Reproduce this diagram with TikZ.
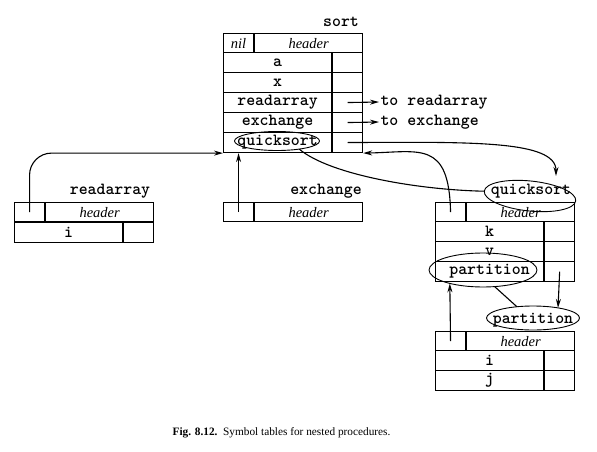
\documentclass[tikz,border=0pt]{standalone}
\usepackage{fontspec}
\setmainfont{Liberation Serif}
\usetikzlibrary{arrows.meta, shapes.geometric, positioning, calc}

\tikzset{
  cell/.style={draw, rectangle, inner sep=0pt, anchor=north west, minimum height=20pt,
    font=\fontsize{17}{17}\selectfont\ttfamily\bfseries},
  hdr/.style={cell, minimum height=19pt, font=\fontsize{14.5}{14.5}\selectfont\itshape},
  wide/.style={minimum width=108pt},
  narrow/.style={minimum width=30pt},
  proc/.style={inner sep=1pt, font=\fontsize{17}{17}\selectfont\ttfamily\bfseries},
  oval/.style={draw, ellipse, inner sep=0pt, outer sep=0pt, line width=0.9pt}
}

\begin{document}
\begin{tikzpicture}[x=1pt, y=-1pt, >={Stealth[length=9pt, width=5pt]}, line width=1.1pt]
\useasboundingbox (0,0) rectangle (597,452);

% Symbol table of sort
\node[proc] (sort-lbl) at (341,22) {sort};
\node[hdr, narrow] (sort-nil) at (223,33) {nil};
\node[hdr, wide] (sort-hdr) at (sort-nil.north east) {header};
\foreach \r [count=\k from 0] in {a,x,readarray,exchange,quicksort} {
  \node[cell, wide] (sort-\r) at (223,{52+20*\k}) {\r};
  \node[cell, narrow] (sort-\r-p) at (sort-\r.north east) {};
}
\node[proc, anchor=west] (to-ra) at (379,102) {to readarray};
\node[proc, anchor=west] (to-ex) at (379,122) {to exchange};

% Symbol tables of readarray and exchange
\node[proc] (ra-lbl) at (110,191) {readarray};
\node[hdr, narrow] (ra-nil) at (14,202) {};
\node[hdr, wide] (ra-hdr) at (ra-nil.north east) {header};
\node[cell, wide] (ra-i) at (ra-nil.south west) {i};
\node[cell, narrow] (ra-i-p) at (ra-i.north east) {};

\node[proc] (ex-lbl) at (326,191) {exchange};
\node[hdr, narrow] (ex-nil) at (223,202) {};
\node[hdr, wide] (ex-hdr) at (ex-nil.north east) {header};

% Symbol table of quicksort
\node[proc] (qs-lbl) at (531,191) {quicksort};
\node[hdr, narrow] (qs-nil) at (435,202) {};
\node[hdr, wide] (qs-hdr) at (qs-nil.north east) {header};
\foreach \r [count=\k from 0] in {k,v,partition} {
  \node[cell, wide] (qs-\r) at (435,{221+20*\k}) {\r};
  \node[cell, narrow] (qs-\r-p) at (qs-\r.north east) {};
}

% Symbol table of partition
\node[proc] (pt-lbl) at (533,320) {partition};
\node[hdr, narrow] (pt-nil) at (435,331) {};
\node[hdr, wide] (pt-hdr) at (pt-nil.north east) {header};
\foreach \r [count=\k from 0] in {i,j} {
  \node[cell, wide] (pt-\r) at (435,{350+20*\k}) {\r};
  \node[cell, narrow] (pt-\r-p) at (pt-\r.north east) {};
}

% Ovals round the names
\node[oval, minimum width=85pt, minimum height=19pt] (sort-qs-o) at (277,141) {};
\node[oval, minimum width=92pt, minimum height=30pt, rotate=-6] (qs-o) at (530,196) {};
\node[oval, minimum width=108pt, minimum height=34pt] (qs-pt-o) at (483,270) {};
\node[oval, minimum width=93pt, minimum height=24pt] (pt-o) at (533,318) {};
\coordinate (qs-in) at (556,176);

% Pointers
\draw[->] (sort-readarray-p.center) -- (to-ra.west);
\draw[->] (sort-exchange-p.center) -- (to-ex.west);
\draw[->] (sort-quicksort-p.center) .. controls (470,142) and (556,140) .. (qs-in);
\draw[->] (qs-nil.center) .. controls (449,140) and (420,152) .. (sort-quicksort-p.south east);
\draw[->, rounded corners=22pt] (ra-nil.center) |- (sort-quicksort.south west);
\draw[->] (ex-nil.center) -- (ex-nil.center |- sort-quicksort.south);
\draw (sort-qs-o.-20) .. controls (330,175) and (420,190) .. (qs-o.west);
\draw[->] (qs-partition-p.center) -- (pt-o.22);
\draw[->] (pt-nil.center) -- (qs-pt-o.-158);
\draw (qs-pt-o.-55) -- (pt-o.145);

% Caption
\node[font=\fontsize{11.3}{13}\selectfont] (cap) at (281.5,433)
  {\textbf{Fig. 8.12.}\enspace Symbol tables for nested procedures.};
\end{tikzpicture}
\end{document}
